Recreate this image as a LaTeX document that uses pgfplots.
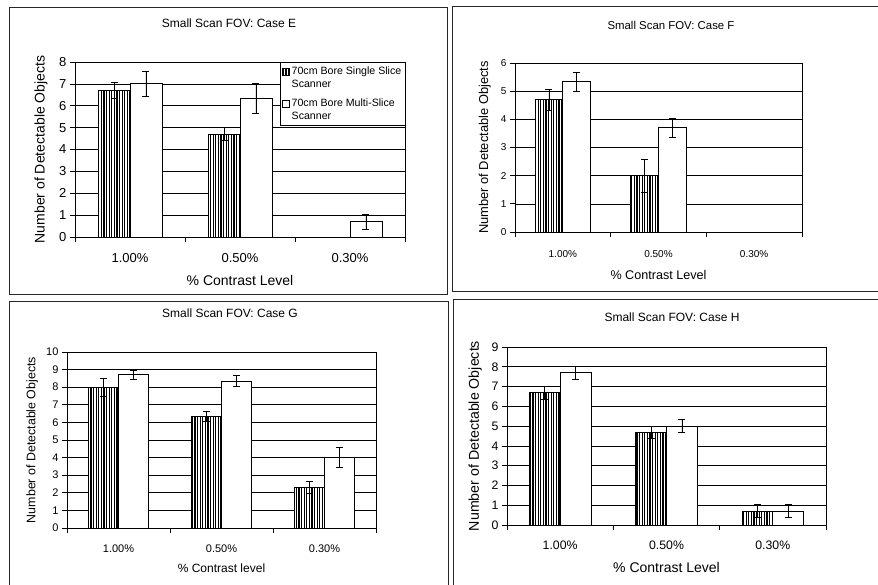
\documentclass[border=0pt]{standalone}
\usepackage{fontspec}
\setmainfont{Liberation Sans}
\usepackage{pgfplots}
\pgfplotsset{compat=1.18}
\usetikzlibrary{patterns.meta}
\newcommand{\fs}[1]{\fontsize{#1}{#1}\selectfont}
\pgfplotsset{
  panel/.style={
    scale only axis, anchor=south west, ybar, bar width=0.29,
    xmin=-0.5, xmax=2.5, ymin=0,
    xtick={0,1,2}, xticklabels={1.00\%,0.50\%,0.30\%},
    minor xtick={-0.5,0.5,1.5,2.5},
    major x tick style={draw=none},
    tick align=outside, tick pos=left,
    major tick length=5pt, minor tick length=5pt,
    ytick distance=1,
    ymajorgrids, grid style={black, line width=0.6pt},
    axis line style={black, line width=0.7pt},
    tick style={black, line width=0.7pt},
    /pgf/number format/assume math mode=true,
    clip=false,
  },
  single/.style={bar shift=-0.145, draw=black, line width=0.8pt, fill=white,
    postaction={pattern={Lines[angle=90, distance=2.6pt, line width=1.1pt]}, pattern color=black},
    error bars/.cd, y dir=both, y explicit,
    error bar style={black, line width=0.8pt},
    error mark options={rotate=90, mark size=3.5pt, black, line width=0.8pt}},
  multi/.style={bar shift=0.145, draw=black, line width=0.8pt, fill=white,
    error bars/.cd, y dir=both, y explicit,
    error bar style={black, line width=0.8pt},
    error mark options={rotate=90, mark size=3.5pt, black, line width=0.8pt}},
}
\begin{document}
\begin{tikzpicture}[x=1pt,y=1pt]
\useasboundingbox (0,0) rectangle (878,585);
% ---------- Case E ----------
\begin{axis}[panel, at={(75pt,348pt)}, width=330pt, height=175pt, ymax=8,
  tick label style={font=\fs{13}}, xticklabel style={yshift=-8pt},
  ylabel={Number of Detectable Objects}, ylabel style={font=\fs{14}, at={(axis description cs:-0.103,0.5)}, anchor=center},
  xlabel={\% Contrast Level}, xlabel style={font=\fs{14}, at={(axis description cs:0.5,-0.246)}, anchor=center},
  legend style={at={(1,1)}, anchor=north east, font=\fontsize{10.6}{12.5}\selectfont, draw=black, fill=white,
    cells={align=left, anchor=west}, inner xsep=1.5pt, inner ysep=3pt, row sep=6pt},
  legend image code/.code={\draw[#1] (0pt,2.2pt) rectangle (7pt,9.2pt); \path (0pt,-9.2pt);},
]
\addplot[single] coordinates {(0,6.7) +- (0,0.37) (1,4.7) +- (0,0.3)};
\addlegendentry{70cm Bore Single Slice\\Scanner}
\addplot[multi] coordinates {(0,7.0) +- (0,0.58) (1,6.33) +- (0,0.67) (2,0.7) +- (0,0.35)};
\addlegendentry{70cm Bore Multi-Slice\\Scanner}
\end{axis}
\node[font=\fs{12}] at (229,562) {Small Scan FOV: Case E};
% ---------- Case F ----------
\begin{axis}[panel, at={(515pt,353pt)}, width=287pt, height=169pt, ymax=6,
  tick label style={font=\fs{10}}, xticklabel style={yshift=-10pt},
  ylabel={Number of Detectable Objects}, ylabel style={font=\fs{12.9}, at={(axis description cs:-0.105,0.5)}, anchor=center},
  xlabel={\% Contrast Level}, xlabel style={font=\fs{12.6}, at={(axis description cs:0.5,-0.254)}, anchor=center},
]
\addplot[single] coordinates {(0,4.7) +- (0,0.37) (1,2.0) +- (0,0.58)};
\addplot[multi] coordinates {(0,5.33) +- (0,0.35) (1,3.7) +- (0,0.33)};
\end{axis}
\node[font=\fs{11.4}] at (671,560) {Small Scan FOV: Case F};
% ---------- Case G ----------
\begin{axis}[panel, at={(67pt,57pt)}, width=309pt, height=176pt, ymax=10,
  tick label style={font=\fs{11}}, xticklabel style={yshift=-8pt},
  ylabel={Number of Detectable Objects}, ylabel style={font=\fs{12.4}, at={(axis description cs:-0.113,0.5)}, anchor=center},
  xlabel={\% Contrast level}, xlabel style={font=\fs{12}, at={(axis description cs:0.5,-0.227)}, anchor=center},
]
\addplot[single] coordinates {(0,8.0) +- (0,0.5) (1,6.33) +- (0,0.27) (2,2.3) +- (0,0.33)};
\addplot[multi] coordinates {(0,8.7) +- (0,0.27) (1,8.35) +- (0,0.3) (2,4.0) +- (0,0.58)};
\end{axis}
\node[font=\fs{12}] at (230,272) {Small Scan FOV: Case G};
% ---------- Case H ----------
\begin{axis}[panel, at={(507pt,60pt)}, width=319pt, height=178pt, ymax=9,
  tick label style={font=\fs{12.3}}, xticklabel style={yshift=-7pt},
  ylabel={Number of Detectable Objects}, ylabel style={font=\fs{14.2}, at={(axis description cs:-0.10,0.5)}, anchor=center},
  xlabel={\% Contrast Level}, xlabel style={font=\fs{14}, at={(axis description cs:0.5,-0.236)}, anchor=center},
]
\addplot[single] coordinates {(0,6.7) +- (0,0.33) (1,4.7) +- (0,0.3) (2,0.7) +- (0,0.33)};
\addplot[multi] coordinates {(0,7.7) +- (0,0.33) (1,5.0) +- (0,0.33) (2,0.7) +- (0,0.33)};
\end{axis}
\node[font=\fs{12}] at (672,268) {Small Scan FOV: Case H};
% ---------- panel frames ----------
\draw[black!85, line width=0.9pt] (9,578) rectangle (447,291);
\draw[black!85, line width=0.9pt] (880,579) -- (452,579) -- (452,294) -- (880,294);
\draw[black!85, line width=0.9pt] (9,-5) -- (9,284) -- (448,284) -- (448,-5);
\draw[black!85, line width=0.9pt] (880,286) -- (453,286) -- (453,-5);
\end{tikzpicture}
\end{document}
